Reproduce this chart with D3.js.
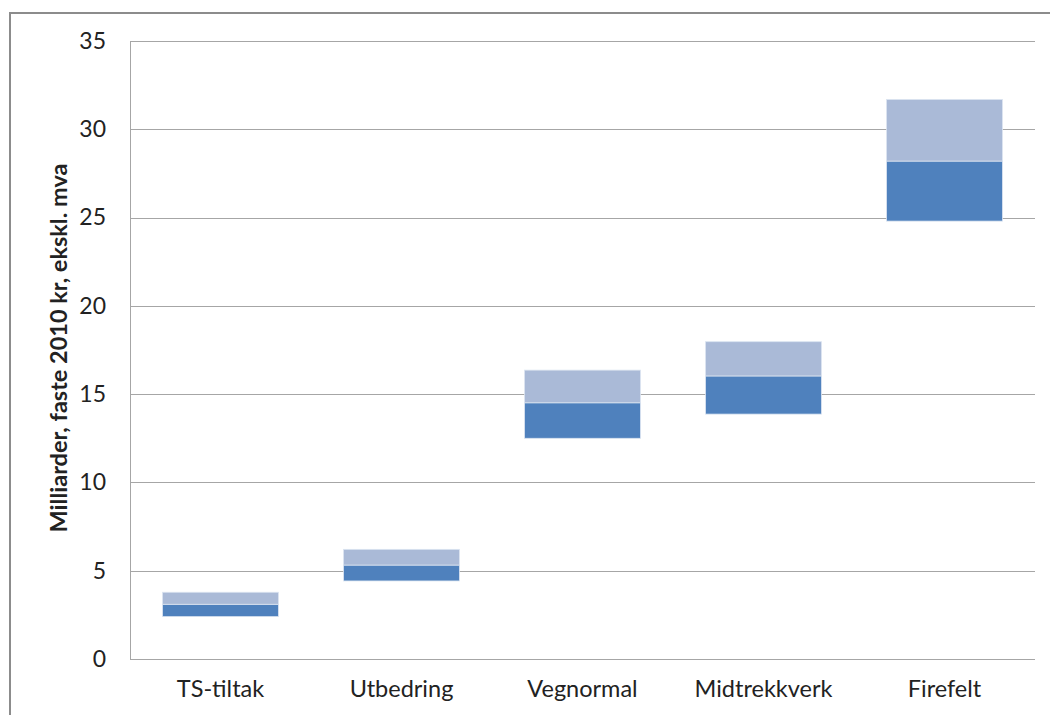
<!DOCTYPE html>
<meta charset="utf-8">
<html>
<head>
<title>Kostnader</title>
<script src="https://cdn.jsdelivr.net/npm/d3@7"></script>
<style>
  body { margin: 0; background: #fff; }
  text { font-family: Lato, "Open Sans", sans-serif; fill: #222; }
</style>
</head>
<body>
<script>

// categories and values (milliarder kr)
var categories = ["TS-tiltak", "Utbedring", "Vegnormal", "Midtrekkverk", "Firefelt"];
var lowValues  = [2.4, 4.42, 12.5, 13.87, 24.8];   // bottom of dark bar
var midValues  = [3.1, 5.32, 14.51, 16.03, 28.2];  // dark/light split
var highValues = [3.78, 6.21, 16.36, 17.97, 31.69]; // top of light bar
var yTicks = [0, 5, 10, 15, 20, 25, 30, 35];

var width = 1050,
    height = 715;

var margin = {left: 130, top: 41, right: 15, bottom: 56};

var svg = d3.select("body").append("svg")
    .attr("width", width)
    .attr("height", height);

// outer frame
svg.append("rect")
    .attr("x", 10).attr("y", 13)
    .attr("width", width + 20).attr("height", height + 20)
    .attr("fill", "none")
    .attr("stroke", "#8c8c8c")
    .attr("stroke-width", 2);

var x = d3.scaleBand()
    .domain(categories)
    .range([margin.left, width - margin.right])
    .paddingInner(0.36)
    .paddingOuter(0.18);

var y = d3.scaleLinear()
    .domain([0, 35])
    .range([height - margin.bottom, margin.top]);

// gridlines
svg.append("g")
    .selectAll("line")
    .data(yTicks)
    .enter().append("line")
    .attr("x1", margin.left)
    .attr("x2", width - margin.right)
    .attr("y1", function(d) { return Math.round(y(d)) + 0.5; })
    .attr("y2", function(d) { return Math.round(y(d)) + 0.5; })
    .attr("stroke", "#a6a6a6")
    .attr("stroke-width", 1);

// y axis line
svg.append("line")
    .attr("x1", margin.left + 0.5).attr("x2", margin.left + 0.5)
    .attr("y1", y(35)).attr("y2", y(0))
    .attr("stroke", "#a6a6a6");

// tick labels
var yAxis = d3.axisLeft(y).tickValues(yTicks).tickSize(0).tickPadding(24);
var gy = svg.append("g")
    .attr("transform", "translate(" + margin.left + ",0)")
    .call(yAxis);
gy.select(".domain").remove();
gy.selectAll("text")
    .style("font-family", "Lato, sans-serif")
    .style("font-size", "23px")
    .attr("fill", "#262626");

// x labels
var xAxis = d3.axisBottom(x).tickSize(0).tickPadding(21);
var gx = svg.append("g")
    .attr("transform", "translate(0," + y(0) + ")")
    .call(xAxis);
gx.select(".domain").remove();
gx.selectAll("text")
    .style("font-family", "Lato, sans-serif")
    .style("font-size", "23.5px")
    .attr("fill", "#262626");

// bars
var bars = svg.append("g");
categories.forEach(function(c, i) {
    bars.append("rect")
        .attr("x", x(c))
        .attr("width", x.bandwidth())
        .attr("y", y(midValues[i]))
        .attr("height", y(lowValues[i]) - y(midValues[i]))
        .attr("fill", "#4f81bd")
        .attr("stroke", "#dbe4f0")
        .attr("stroke-width", 0.8);
    bars.append("rect")
        .attr("x", x(c))
        .attr("width", x.bandwidth())
        .attr("y", y(highValues[i]))
        .attr("height", y(midValues[i]) - y(highValues[i]))
        .attr("fill", "#aabad7")
        .attr("stroke", "#dbe4f0")
        .attr("stroke-width", 0.8);
});

// y title
svg.append("text")
    .attr("transform", "translate(67," + ((y(0) + y(35)) / 2 - 2) + ") rotate(-90)")
    .attr("text-anchor", "middle")
    .style("font-size", "23.5px")
    .style("font-weight", "bold")
    .attr("fill", "#000")
    .text("Milliarder, faste 2010 kr, ekskl. mva");

</script>
</body>
</html>
